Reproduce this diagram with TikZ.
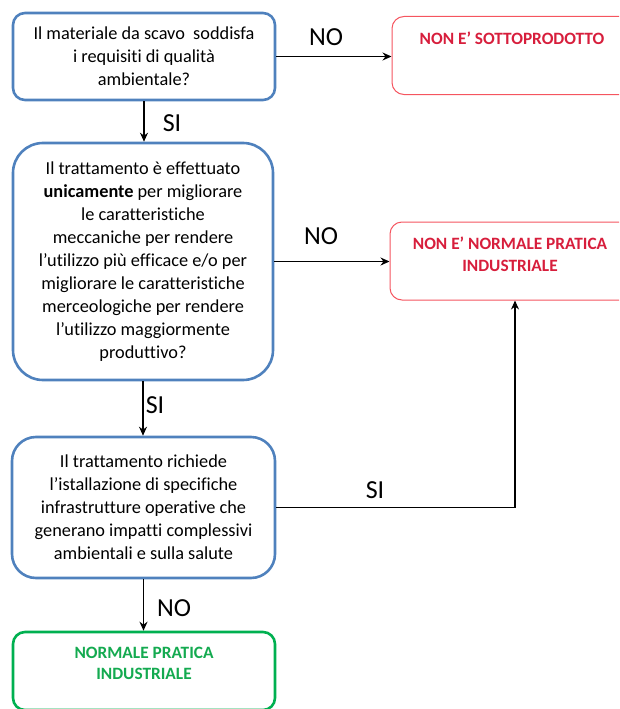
\documentclass[tikz,border=0pt]{standalone}
\usepackage{fontspec}
\setmainfont{Carlito}[Ligatures=NoCommon]
\usepackage{xcolor}
\definecolor{bluBordo}{RGB}{79, 129, 189}
\definecolor{rossoBordo}{RGB}{245, 85, 95}
\definecolor{rossoTesto}{RGB}{215, 30, 60}
\definecolor{verdeBordo}{RGB}{0, 176, 80}
\definecolor{verdeTesto}{RGB}{20, 170, 80}
\usepackage{tikz}
\usetikzlibrary{arrows,arrows.meta,shapes,calc,positioning}
\newcommand{\corpo}{\fontsize{18.3}{23}\selectfont}
\newcommand{\esitofont}{\fontsize{17.3}{21.5}\selectfont\bfseries}
\newcommand{\etichetta}{\fontsize{26}{28}\selectfont}
\newcommand{\esitotesto}[2][250pt]{\parbox[c][78pt][t]{#1}{\centering\vspace*{15pt}#2}}
\tikzstyle{domanda}=[rectangle, draw=bluBordo, line width=2.6pt,
                    align=center, inner sep=0pt, font=\corpo]
\tikzstyle{esito}  =[rectangle, rounded corners=12pt, line width=1pt,
                    inner sep=0pt, font=\esitofont]
\tikzstyle{freccia}=[-{Stealth[length=9pt,width=8pt]}, line width=1.2pt]
\tikzstyle{risposta}=[font=\etichetta, inner sep=0pt]

\begin{document}
\begin{tikzpicture}[x=1pt,y=1pt]

    \useasboundingbox (0,0) rectangle (619,-709);
    \clip (0,0) rectangle (619,-709);

    \draw (144,-56.5) node (q1) [domanda, rounded corners=12pt,
        minimum width=262pt, minimum height=87pt]
        {Il materiale da scavo\ \ soddisfa\\ i requisiti di qualità\\ ambientale?};
    \draw (143,-261.5) node (q2) [domanda, rounded corners=30pt,
        minimum width=260pt, minimum height=237pt]
        {Il trattamento è effettuato\\ \textbf{unicamente} per migliorare\\
         le caratteristiche\\ meccaniche per rendere\\
         l’utilizzo più efficace e/o per\\ migliorare le caratteristiche\\
         merceologiche per rendere\\ l’utilizzo maggiormente\\ produttivo?};
    \draw (143.5,-507.5) node (q3) [domanda, rounded corners=24pt,
        minimum width=263pt, minimum height=141pt]
        {Il trattamento richiede\\ l’istallazione di specifiche\\
         infrastrutture operative che\\ generano impatti complessivi\\
         ambientali e sulla salute};

    \draw (512,-55.5) node (nosp) [esito, draw=rossoBordo, text=rossoTesto]
        {\esitotesto[240pt]{NON E’ SOTTOPRODOTTO}};
    \draw (515,-261) node (nonpi) [esito, draw=rossoBordo, text=rossoTesto]
        {\esitotesto{\hspace*{-10pt}NON E’ NORMALE PRATICA\\ \hspace*{-10pt}INDUSTRIALE}};
    \draw (144,-671) node (npi) [esito, draw=verdeBordo, line width=2.6pt,
        text=verdeTesto]
        {\esitotesto[262pt]{NORMALE PRATICA\\ INDUSTRIALE}};

    % frecce orizzontali
    \foreach \i/\j in {q1/nosp,q2/nonpi}
        \draw [freccia] (\i.east) -- (\i.east -| \j.west);

    % frecce verticali
    \foreach \i/\j in {q1/q2,q2/q3,q3/npi}
        \draw [freccia] (\i.south) -- (\i.south |- \j.north);

    \draw [freccia] (q3.east) -| (nonpi.south);

    \draw (326,-37) node (r1) [risposta] {NO};
    \draw (172,-123) node (r2) [risposta] {SI};
    \draw (321,-236) node (r3) [risposta] {NO};
    \draw (155,-405) node (r4) [risposta] {SI};
    \draw (375,-490) node (r5) [risposta] {SI};
    \draw (174,-608) node (r6) [risposta] {NO};

\end{tikzpicture}
\end{document}
